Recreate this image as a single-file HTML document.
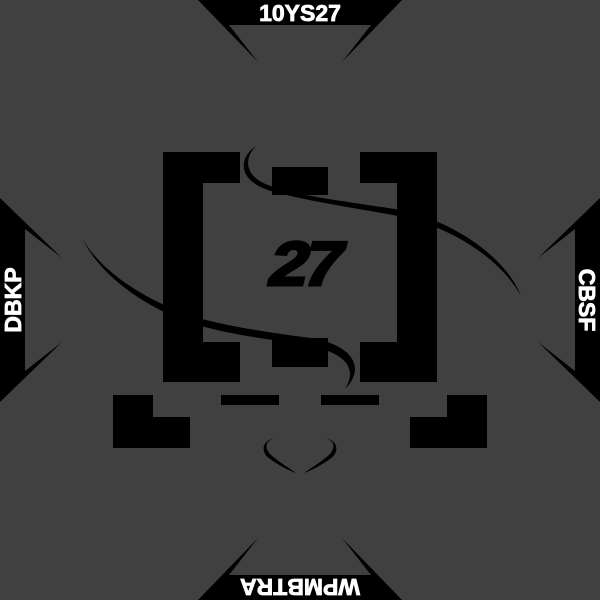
<!DOCTYPE html>
<html><head><style>
html,body{margin:0;padding:0;background:#404040;}
svg{display:block}
text{font-family:"Liberation Sans",sans-serif;font-weight:bold;fill:#fff;stroke:#fff;stroke-width:0.8}
</style></head><body>
<svg width="600" height="600" viewBox="0 0 600 600">
<rect width="600" height="600" fill="#404040"/>
<polygon points="198,0 402,0 342,62 371,25 229,25 258,62" fill="#000"/>
<text x="0" y="8" font-size="23" text-anchor="middle" transform="translate(300,13)">10YS27</text>
<polygon points="198,600 402,600 342,538 371,575 229,575 258,538" fill="#000"/>
<text x="0" y="8" font-size="23" text-anchor="middle" transform="translate(300,587) rotate(180)">WPMBTRA</text>
<polygon points="0,198 0,402 62,342 25,371 25,229 62,258" fill="#000"/>
<text x="0" y="8" font-size="23" text-anchor="middle" transform="translate(13,300) rotate(-90)">DBKP</text>
<polygon points="600,198 600,402 538,342 575,371 575,229 538,258" fill="#000"/>
<text x="0" y="8" font-size="23" text-anchor="middle" transform="translate(587,300) rotate(90)">CBSF</text>

<path d="M163,152 H240 V183 H203 V342 H240 V382 H163 Z" fill="#000"/>
<path d="M437,152 H360 V183 H397 V342 H360 V382 H437 Z" fill="#000"/>
<rect x="272" y="167" width="56" height="28" fill="#000"/>
<rect x="272" y="338" width="56" height="29" fill="#000"/>
<path d="M256,146 C244,158 244,176 268,185 C300,197 360,203 400,210 C450,220 505,255 521,296 C500,258 450,226 398,216 C350,207 300,200 268,190 C238,180 238,158 256,146 Z" fill="#000"/>
<path d="M82,238 C100,275 140,302 175,317 C210,332 260,338 300,344 C340,350 360,365 345,389 C368,366 350,342 303,337 C260,331 210,324 178,311 C140,296 100,270 82,238 Z" fill="#000"/>
<text x="0" y="0" font-size="62" text-anchor="middle" style="fill:#000;stroke:#000;stroke-width:3;letter-spacing:-4px" transform="translate(300,285) skewX(-14) scale(1.12,1)">27</text>
<rect x="221" y="395" width="58" height="10" fill="#000"/>
<rect x="321" y="395" width="58" height="10" fill="#000"/>
<path d="M113,395 H153 V417 H190 V448 H113 Z" fill="#000"/>
<path d="M487,395 H447 V417 H410 V448 H487 Z" fill="#000"/>
<path d="M274,438 C262,441 260,452 270,459 C280,466 288,470 296,473 C286,466 276,460 270,454 C264,447 266,441 274,438 Z" fill="#000"/>
<path d="M326,438 C338,441 340,452 330,459 C320,466 312,470 304,473 C314,466 324,460 330,454 C336,447 334,441 326,438 Z" fill="#000"/>
</svg>
</body></html>
